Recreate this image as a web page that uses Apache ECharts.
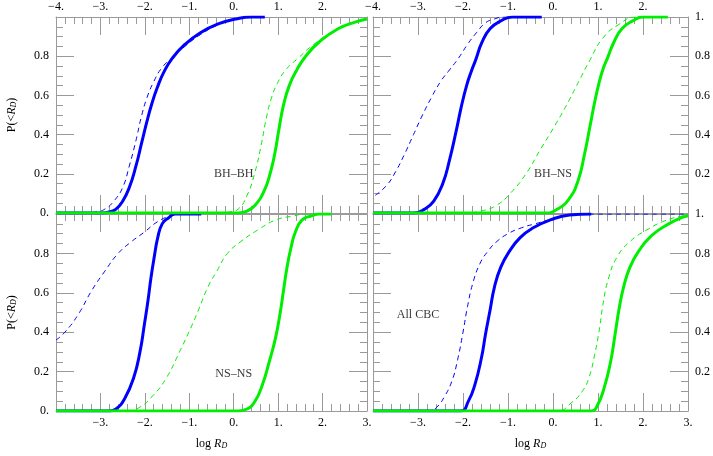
<!DOCTYPE html>
<html><head><meta charset="utf-8">
<script src="https://cdn.jsdelivr.net/npm/echarts@6/dist/echarts.min.js"></script>
<style>html,body{margin:0;padding:0;background:#fff}#c{width:713px;height:456px}</style>
</head><body><div id="c"></div>
<script>
// ---- data (x = log R_D, y = P(<R_D)) ----
const panelLabels = ['BH\u2013BH', 'BH\u2013NS', 'NS\u2013NS', 'All CBC'];
const panelLabelPos = [[0, 0.2], [0, 0.2], [0, 0.19], [-3.0, 0.49]];

const tlBlueDash = [[-4,0],[-3.4,0],[-3.1,0.005],[-2.9,0.02],[-2.7,0.06],[-2.5,0.13],[-2.35,0.24],[-2.2,0.37],[-2.08,0.49],[-1.95,0.59],[-1.8,0.67],[-1.62,0.74],[-1.4,0.79],[-1.1,0.85],[-0.75,0.91],[-0.3,0.965],[0.1,0.99],[0.5,1]];
const tlBlueSolid = [[-4,0],[-2.95,0],[-2.8,0.005],[-2.65,0.02],[-2.5,0.06],[-2.35,0.13],[-2.2,0.24],[-2.07,0.36],[-1.95,0.47],[-1.84,0.56],[-1.72,0.64],[-1.57,0.72],[-1.38,0.79],[-1.1,0.86],[-0.75,0.92],[-0.35,0.965],[0.05,0.99],[0.4,1],[0.7,1]];
const tlGreenDash = [[-4,0],[-0.3,0],[-0.1,0.005],[0.1,0.02],[0.3,0.09],[0.48,0.21],[0.63,0.36],[0.73,0.48],[0.84,0.58],[0.98,0.66],[1.17,0.73],[1.45,0.79],[1.8,0.86],[2.3,0.935],[2.75,0.975],[3.0,0.99]];
const tlGreenSolid = [[-4,0],[0.1,0],[0.3,0.01],[0.48,0.04],[0.68,0.11],[0.83,0.21],[0.93,0.31],[1.02,0.43],[1.12,0.55],[1.25,0.65],[1.42,0.73],[1.62,0.8],[1.91,0.87],[2.35,0.94],[2.75,0.975],[3.0,0.99]];

const trBlueDash = [[-3.95,0.09],[-3.7,0.14],[-3.5,0.21],[-3.3,0.3],[-3.1,0.4],[-2.9,0.5],[-2.7,0.59],[-2.5,0.67],[-2.3,0.73],[-2.1,0.79],[-1.9,0.86],[-1.7,0.92],[-1.5,0.97],[-1.3,0.99],[-1.1,1.0],[-0.3,1.0]];
const trBlueSolid = [[-4,0],[-3.1,0],[-2.85,0.02],[-2.65,0.06],[-2.45,0.15],[-2.3,0.27],[-2.15,0.42],[-2.03,0.55],[-1.92,0.65],[-1.82,0.72],[-1.72,0.78],[-1.58,0.87],[-1.4,0.94],[-1.16,0.98],[-0.9,1.0],[-0.25,1.0]];
const trGreenDash = [[-4,0],[-2.0,0],[-1.6,0.01],[-1.25,0.04],[-0.95,0.1],[-0.6,0.2],[-0.29,0.32],[0.0,0.43],[0.3,0.55],[0.57,0.67],[0.82,0.78],[1.1,0.89],[1.45,0.96],[1.85,1.0],[2.55,1.0]];
const trGreenSolid = [[-4,0],[-0.15,0],[0.1,0.02],[0.35,0.07],[0.55,0.16],[0.7,0.3],[0.82,0.44],[0.93,0.57],[1.03,0.67],[1.12,0.74],[1.21,0.79],[1.35,0.87],[1.53,0.94],[1.77,0.98],[2.0,1.0],[2.55,1.0]];

const blBlueDash = [[-4,0.36],[-3.8,0.4],[-3.5,0.49],[-3.2,0.61],[-2.9,0.71],[-2.6,0.8],[-2.3,0.86],[-2.0,0.91],[-1.72,0.96],[-1.43,0.99],[-1.2,1.0],[-0.75,1.0]];
const blBlueSolid = [[-4,0],[-2.8,0],[-2.65,0.01],[-2.45,0.065],[-2.25,0.17],[-2.11,0.3],[-2.01,0.44],[-1.93,0.56],[-1.86,0.68],[-1.79,0.78],[-1.71,0.88],[-1.61,0.95],[-1.47,0.98],[-1.32,1.0],[-0.73,1.0]];
const blGreenDash = [[-4,0],[-2.4,0],[-2.11,0.02],[-1.81,0.08],[-1.51,0.17],[-1.22,0.3],[-0.97,0.42],[-0.78,0.52],[-0.58,0.63],[-0.38,0.71],[-0.14,0.8],[0.16,0.86],[0.55,0.92],[0.95,0.97],[1.34,0.99],[1.64,1.0],[2.2,1.0]];
const blGreenSolid = [[-4,0],[0.1,0],[0.3,0.01],[0.48,0.05],[0.64,0.13],[0.8,0.25],[0.94,0.37],[1.04,0.49],[1.12,0.61],[1.2,0.73],[1.29,0.83],[1.39,0.91],[1.54,0.97],[1.74,0.99],[1.93,1.0],[2.2,1.0]];

const brBlueDash = [[-4,0],[-2.74,0],[-2.58,0.02],[-2.42,0.07],[-2.25,0.15],[-2.12,0.26],[-2.0,0.4],[-1.9,0.53],[-1.78,0.65],[-1.62,0.75],[-1.45,0.81],[-1.25,0.86],[-1.0,0.9],[-0.7,0.93],[-0.4,0.95],[0.0,0.975],[0.4,0.995],[0.85,1],[3.0,1]];
const brBlueSolid = [[-4,0],[-2.05,0],[-1.88,0.05],[-1.74,0.13],[-1.59,0.27],[-1.5,0.39],[-1.4,0.51],[-1.3,0.63],[-1.16,0.73],[-0.97,0.81],[-0.73,0.88],[-0.44,0.93],[-0.06,0.97],[0.37,0.995],[0.85,1.0]];
const brGreenDash = [[-4,0],[0.1,0],[0.4,0.04],[0.65,0.1],[0.8,0.17],[0.92,0.28],[1.02,0.4],[1.11,0.54],[1.23,0.67],[1.42,0.78],[1.71,0.86],[2.09,0.92],[2.48,0.965],[2.86,0.99],[3.0,0.995]];
const brGreenSolid = [[-4,0],[0.85,0],[0.99,0.03],[1.14,0.12],[1.28,0.25],[1.38,0.39],[1.47,0.52],[1.57,0.63],[1.71,0.73],[1.9,0.81],[2.19,0.89],[2.57,0.95],[2.9,0.985],[3.0,0.99]];

const panelSeries = [
  [tlBlueDash, tlBlueSolid, tlGreenDash, tlGreenSolid],
  [trBlueDash, trBlueSolid, trGreenDash, trGreenSolid],
  [blBlueDash, blBlueSolid, blGreenDash, blGreenSolid],
  [brBlueDash, brBlueSolid, brGreenDash, brGreenSolid]
];

// ---- styling / layout ----
const FONT = "'Liberation Serif','DejaVu Serif',serif";
const GRAY = '#9a9a9a';
const BLUE = '#0000ff';
const GREEN = '#00ee00';
const grids = [
  {left: 56, top: 17, width: 311, height: 196},
  {left: 373, top: 17, width: 317, height: 196},
  {left: 56, top: 214, width: 311, height: 197},
  {left: 373, top: 214, width: 317, height: 197}
];
function fmtX(v) { const r = Math.round(v); return (r < 0 ? '\u2212' : '') + Math.abs(r) + '.'; }
function fmtY(v) { const r = Math.round(v * 10) / 10; return r === 0 ? '0.' : (r === 1 ? '1.' : r.toFixed(1)); }
const rich = {
  n: {fontFamily: FONT, fontSize: 12, color: '#000'},
  i: {fontFamily: FONT, fontSize: 12, fontStyle: 'italic', color: '#000'},
  s: {fontFamily: FONT, fontSize: 8, fontStyle: 'italic', color: '#000', verticalAlign: 'bottom', padding: [5, 0, 0, 0]}
};

const xAxes = [], yAxes = [], series = [];
for (let g = 0; g < 4; g++) {
  const isTop = g < 2, isLeft = g % 2 === 0;
  ['bottom', 'top'].forEach(pos => {
    const show = (pos === 'top' && isTop) || (pos === 'bottom' && !isTop);
    const hide = pos === 'top' ? [3] : [-4];
    const ax = {
      type: 'value', gridIndex: g, position: pos, min: -4, max: 3, interval: 1,
      axisLine: {show: true, onZero: false, lineStyle: {color: GRAY, width: 1}},
      axisTick: {show: true, inside: true, length: 18, lineStyle: {color: GRAY, width: 1}},
      minorTick: {show: true, splitNumber: 5, length: 7, lineStyle: {color: GRAY, width: 1}},
      splitLine: {show: false}, minorSplitLine: {show: false},
      axisLabel: {show: show, margin: pos === 'top' ? 4 : 6, color: '#000', fontFamily: FONT, fontSize: 12,
        formatter: v => hide.includes(Math.round(v)) ? '' : fmtX(v)}
    };
    if (pos === 'bottom' && !isTop) {
      ax.name = '{n|log }{i|R}{s|D}';
      ax.nameLocation = 'middle';
      ax.nameGap = 26;
      ax.nameTextStyle = {rich: rich};
    }
    xAxes.push(ax);
  });
  ['left', 'right'].forEach(pos => {
    const show = (pos === 'left' && isLeft) || (pos === 'right' && !isLeft);
    const hide = pos === 'left' ? [10] : [0];
    const ax = {
      type: 'value', gridIndex: g, position: pos, min: 0, max: 1, interval: 0.2,
      axisLine: {show: true, onZero: false, lineStyle: {color: GRAY, width: 1}},
      axisTick: {show: true, inside: true, length: 18, lineStyle: {color: GRAY, width: 1}},
      minorTick: {show: true, splitNumber: 4, length: 7, lineStyle: {color: GRAY, width: 1}},
      splitLine: {show: false}, minorSplitLine: {show: false},
      axisLabel: {show: show, margin: 7, color: '#000', fontFamily: FONT, fontSize: 12,
        formatter: v => hide.includes(Math.round(v * 10)) ? '' : fmtY(v)}
    };
    if (pos === 'left' && isLeft) {
      ax.name = '{n|P(<}{i|R}{s|D}{n|)}';
      ax.nameLocation = 'middle';
      ax.nameGap = 38;
      ax.nameRotate = 90;
      ax.nameTextStyle = {rich: rich};
    }
    yAxes.push(ax);
  });
  const [bd, bs, gd, gs] = panelSeries[g];
  const mk = (data, color, dashed, z) => ({
    type: 'line', xAxisIndex: 2 * g, yAxisIndex: 2 * g, data: data,
    showSymbol: false, symbol: 'none', smooth: 0.5, silent: true, z: z,
    lineStyle: {color: color, width: dashed ? 1 : 3, type: dashed ? [5, 4] : 'solid'}
  });
  series.push(mk(bd, BLUE, true, 2), mk(bs, BLUE, false, 3), mk(gd, GREEN, true, 4), mk(gs, GREEN, false, 5));
  series.push({
    type: 'scatter', xAxisIndex: 2 * g, yAxisIndex: 2 * g, symbolSize: 0, silent: true, z: 6,
    data: [{value: panelLabelPos[g], name: panelLabels[g]}],
    label: {show: true, position: 'inside', formatter: '{b}', color: '#000', fontFamily: FONT, fontSize: 12}
  });
}

const chart = echarts.init(document.getElementById('c'), null, {renderer: 'canvas'});
chart.setOption({
  animation: false,
  backgroundColor: '#fff',
  grid: grids.map(g => Object.assign({containLabel: false}, g)),
  xAxis: xAxes,
  yAxis: yAxes,
  series: series
});
</script>
</body></html>
